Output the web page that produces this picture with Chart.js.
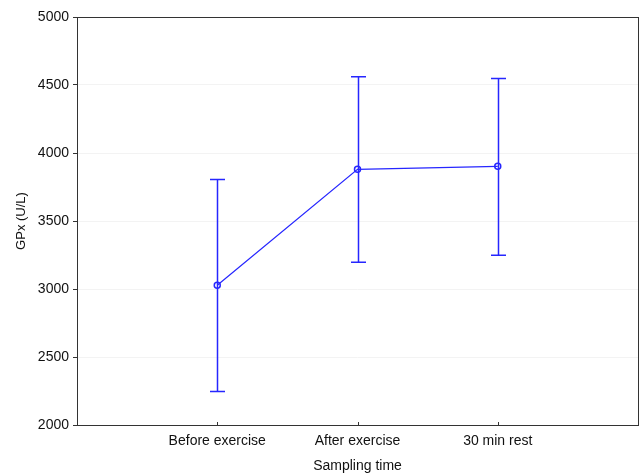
<!DOCTYPE html>
<html>
<head>
<meta charset="utf-8">
<script src="https://cdn.jsdelivr.net/npm/chart.js@4.4.0/dist/chart.umd.min.js"></script>
<style>
	html, body { margin: 0; padding: 0; background: #fff; }
	#wrap { width: 640px; height: 475px; }
</style>
</head>
<body>
<div id="wrap"><canvas id="gpxChart" width="640" height="475"></canvas></div>
<script>
// Data
var categories = ['Before exercise', 'After exercise', '30 min rest'];
var means = [3027, 3880, 3902];
var upper = [3805, 4561, 4548];
var lower = [2247, 3197, 3248];

var LINE_COLOR = '#2626ff';
var FONT = 'Arial, "Liberation Sans", sans-serif';

// Points placed at 1..3 on a 0..4 linear axis
var points = [];
for (var i = 0; i < categories.length; i++) {
	points.push({ x: i + 1, y: means[i] });
}

// Error bars, frame and inward x ticks
var errorBarPlugin = {
	id: 'errorBars',
	beforeDatasetsDraw: function (chart) {
		var ctx = chart.ctx;
		var a = chart.chartArea;
		var xs = chart.scales.x;
		ctx.save();
		ctx.strokeStyle = '#333';
		ctx.lineWidth = 1;
		ctx.strokeRect(Math.round(a.left) + 0.5, Math.round(a.top) + 0.5, Math.round(a.right - a.left), Math.round(a.bottom - a.top));
		// small tick marks pointing up into the plot
		for (var i = 0; i < categories.length; i++) {
			var px = Math.round(xs.getPixelForValue(i + 1)) + 0.5;
			ctx.beginPath();
			ctx.moveTo(px, a.bottom);
			ctx.lineTo(px, a.bottom - 3);
			ctx.stroke();
		}
		ctx.restore();
	},
	afterDatasetsDraw: function (chart) {
		var ctx = chart.ctx;
		var xs = chart.scales.x;
		var ys = chart.scales.y;
		ctx.save();
		ctx.strokeStyle = LINE_COLOR;
		ctx.lineWidth = 1.5;
		for (var i = 0; i < categories.length; i++) {
			var px = Math.round(xs.getPixelForValue(i + 1)) + 0.5;
			var yTop = ys.getPixelForValue(upper[i]);
			var yBot = ys.getPixelForValue(lower[i]);
			ctx.beginPath();
			ctx.moveTo(px, yTop);
			ctx.lineTo(px, yBot);
			ctx.moveTo(px - 7.5, yTop);
			ctx.lineTo(px + 7.5, yTop);
			ctx.moveTo(px - 7.5, yBot);
			ctx.lineTo(px + 7.5, yBot);
			ctx.stroke();
		}
		ctx.restore();
	}
};

var ctx = document.getElementById('gpxChart');
var gpxChart = new Chart(ctx, {
	type: 'line',
	data: {
		datasets: [
			{
				label: 'GPx',
				data: points,
				borderColor: LINE_COLOR,
				borderWidth: 1.2,
				pointRadius: 3,
				pointBorderWidth: 1.5,
				pointBorderColor: LINE_COLOR,
				pointBackgroundColor: 'rgba(0,0,0,0)',
				fill: false,
				tension: 0
			}
		]
	},
	options: {
		responsive: false,
		animation: false,
		layout: { autoPadding: false, padding: { top: 17, right: 2, left: 0, bottom: 0 } },
		plugins: {
			legend: { display: false },
			tooltip: { enabled: false }
		},
		scales: {
			x: {
				type: 'linear',
				min: 0,
				max: 4,
				afterBuildTicks: function (scale) {
					scale.ticks = [{ value: 1 }, { value: 2 }, { value: 3 }];
				},
				ticks: {
					autoSkip: false,
					maxRotation: 0,
					padding: 8,
					color: '#111',
					font: { family: FONT, size: 14 },
					callback: function (v) { return categories[v - 1] || ''; }
				},
				grid: { display: false, drawTicks: false },
				border: { display: false },
				title: {
					display: true,
					text: 'Sampling time',
					color: '#111',
					font: { family: FONT, size: 14 },
					padding: { top: 10, bottom: 0 }
				},
				afterFit: function (scale) { scale.height = 50; }
			},
			y: {
				min: 2000,
				max: 5000,
				ticks: {
					stepSize: 500,
					padding: 4,
					color: '#111',
					font: { family: FONT, size: 14 },
					callback: function (v) { return String(v); }
				},
				grid: {
					color: '#f3f3f3',
					tickColor: '#333',
					tickLength: 4,
					drawTicks: true
				},
				border: { display: false },
				title: {
					display: true,
					text: 'GPx (U/L)',
					color: '#111',
					font: { family: FONT, size: 13 },
					padding: { top: 14, bottom: 0 }
				},
				afterFit: function (scale) { scale.width = 77; }
			}
		}
	},
	plugins: [errorBarPlugin]
});
</script>
</body>
</html>
